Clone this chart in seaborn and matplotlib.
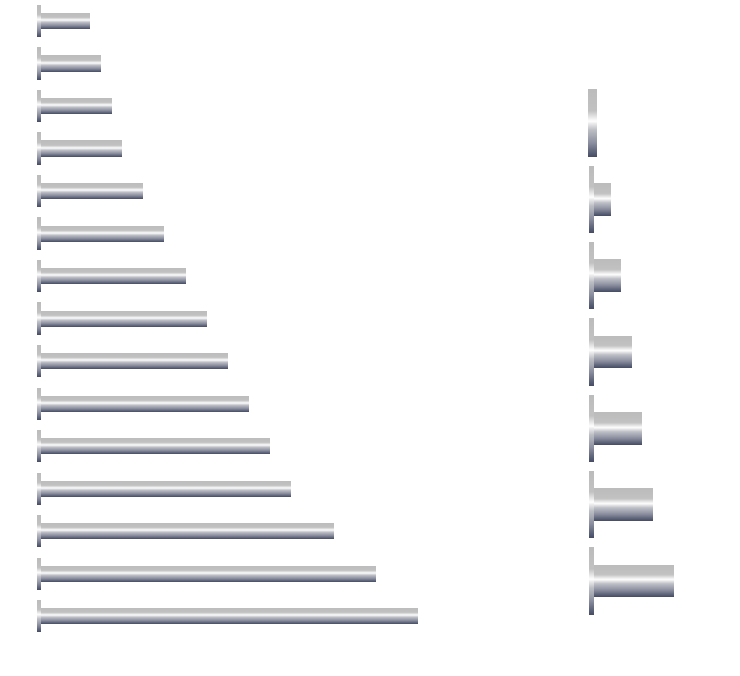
import numpy as np
import pandas as pd
import matplotlib
matplotlib.use("Agg")
import matplotlib.pyplot as plt
import seaborn as sns
from matplotlib.colors import LinearSegmentedColormap
from matplotlib.patches import Rectangle

# data
left_labels = [f"L{i}" for i in range(15)]
left_values = [5, 6, 7, 8, 10, 12, 14, 16, 18, 20, 22, 24, 28, 32, 36]
right_labels = [f"R{i}" for i in range(7)]
right_values = [0, 2, 3, 4, 5, 6, 8]

W, H = 740, 676
PX_PER_UNIT = 10.58

metal = LinearSegmentedColormap.from_list("metal", [
    (0.00, "#bcbcbc"),
    (0.32, "#c2c2c2"),
    (0.47, "#ffffff"),
    (0.60, "#bfc0c6"),
    (0.80, "#8a8e9e"),
    (1.00, "#474e66"),
])
grad = metal(np.linspace(0, 1, 64))[:, None, :3]


def paint(ax, x0, x1, y_top, y_bot):
    # gradient fill clipped to a rectangle in data coords (y axis inverted)
    clip = Rectangle((x0, y_top), x1 - x0, y_bot - y_top, transform=ax.transData,
                     facecolor="none", edgecolor="none")
    ax.add_patch(clip)
    im = ax.imshow(grad, extent=(x0, x1, y_bot, y_top), aspect="auto",
                   interpolation="bilinear", zorder=3)
    im.set_clip_path(clip)


def metal_panel(ax, labels, values, bar_h, cap_h, cap_px, zero_px, xmax):
    df = pd.DataFrame({"label": labels, "value": values})
    sns.barplot(df, x="value", y="label", ax=ax, width=bar_h, color="#c0c0c0",
                saturation=1, errorbar=None)
    ylim = ax.get_ylim()
    cap_w = cap_px / PX_PER_UNIT
    for p, v in zip(list(ax.patches), values):
        y0, h = p.get_y(), p.get_height()
        yc = y0 + h / 2
        p.set_visible(False)
        if v > 0:
            paint(ax, 0, p.get_width(), y0, y0 + h)
            paint(ax, 0, cap_w, yc - cap_h / 2, yc + cap_h / 2)
        else:
            zw = zero_px / PX_PER_UNIT
            paint(ax, -zw / 8, zw, yc - cap_h / 2, yc + cap_h / 2)
    ax.set_xlim(0, xmax)
    ax.set_ylim(ylim)
    ax.axis("off")


fig = plt.figure(figsize=(W / 100, H / 100), dpi=100)

# left panel: 15 bars, spacing ~42.5px, zero at x~37px
lx0, lxmax = 37.1, 40
l_top, l_bot = -0.25, 637.5
ax1 = fig.add_axes([lx0 / W, 1 - l_bot / H, lxmax * PX_PER_UNIT / W, (l_bot - l_top) / H])
metal_panel(ax1, left_labels, left_values, bar_h=0.38, cap_h=0.76, cap_px=3.2,
            zero_px=6, xmax=lxmax)

# right panel: 7 bars, spacing ~76.3px, zero at x~589px
rx0, rxmax = 589.4, 13
r_top, r_bot = 84.8, 619.2
ax2 = fig.add_axes([rx0 / W, 1 - r_bot / H, rxmax * PX_PER_UNIT / W, (r_bot - r_top) / H])
metal_panel(ax2, right_labels, right_values, bar_h=0.43, cap_h=0.88, cap_px=4.5,
            zero_px=7.5, xmax=rxmax)

fig.savefig("out.png", dpi=100, facecolor="white")
